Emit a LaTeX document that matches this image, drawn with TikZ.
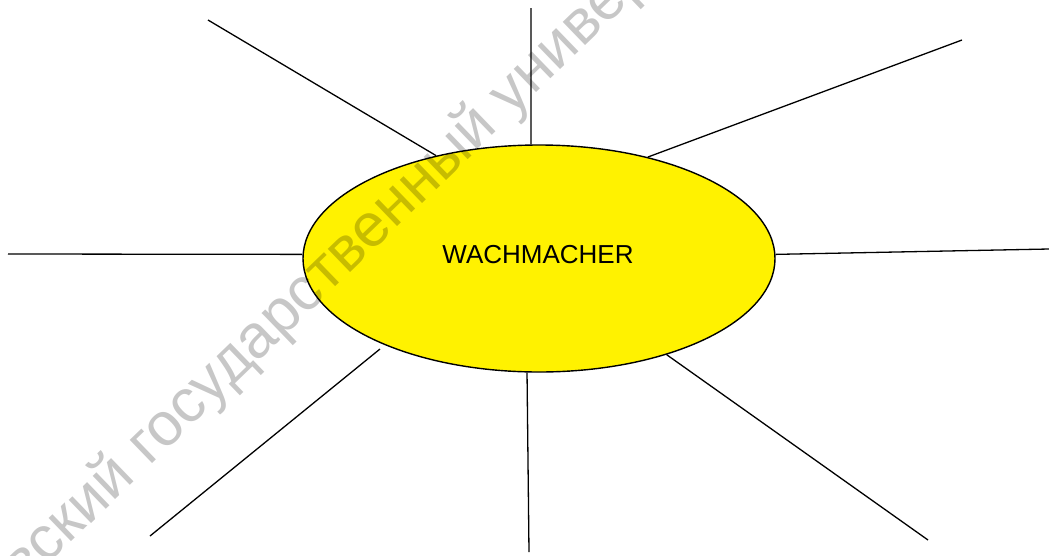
\documentclass[tikz,border=0pt]{standalone}
\usepackage{fontspec}
\setmainfont{Liberation Sans}
\usetikzlibrary{shapes.geometric}
\begin{document}
\begin{tikzpicture}[x=1pt,y=-1pt,
  ray/.style={draw=black,line width=1.3pt},
  sunshape/.style={ellipse,draw=black,line width=1.4pt,fill=yellow,minimum width=472pt,minimum height=227pt,inner sep=0pt},
  suntext/.style={font=\fontsize{26}{26}\selectfont,inner sep=0pt},
  wmark/.style={text=black,text opacity=0.22,font=\fontsize{61}{61}\selectfont,inner sep=0pt,anchor=base west,rotate=44}]
\useasboundingbox (0,0) rectangle (1049,555);
\node[sunshape] (sun) at (539,258.5) {};
\node[suntext] (lbl) at (538,255) {WACHMACHER};
\coordinate (e1) at (208,20);
\coordinate (e2) at (531,8);
\coordinate (e3) at (962,40);
\coordinate (e4) at (8,254);
\coordinate (e5) at (1049,249);
\coordinate (s6) at (380,349);
\coordinate (e6) at (150,536);
\coordinate (e7) at (529,552);
\coordinate (e8) at (928,540);
\draw[ray] (sun.135.3) -- (e1);
\draw[ray] (sun.94) -- (e2);
\draw[ray] (sun.43.1) -- (e3);
\draw[ray] (sun.179) -- (e4);
\draw[ray] (sun.1.2) -- (e5);
\draw[ray] (s6) -- (e6);
\draw[ray] (sun.264) -- (e7);
\draw[ray] (sun.323.8) -- (e8);
\node[wmark] (wm) at (24,588) {вский государственный универ};
\end{tikzpicture}
\end{document}
